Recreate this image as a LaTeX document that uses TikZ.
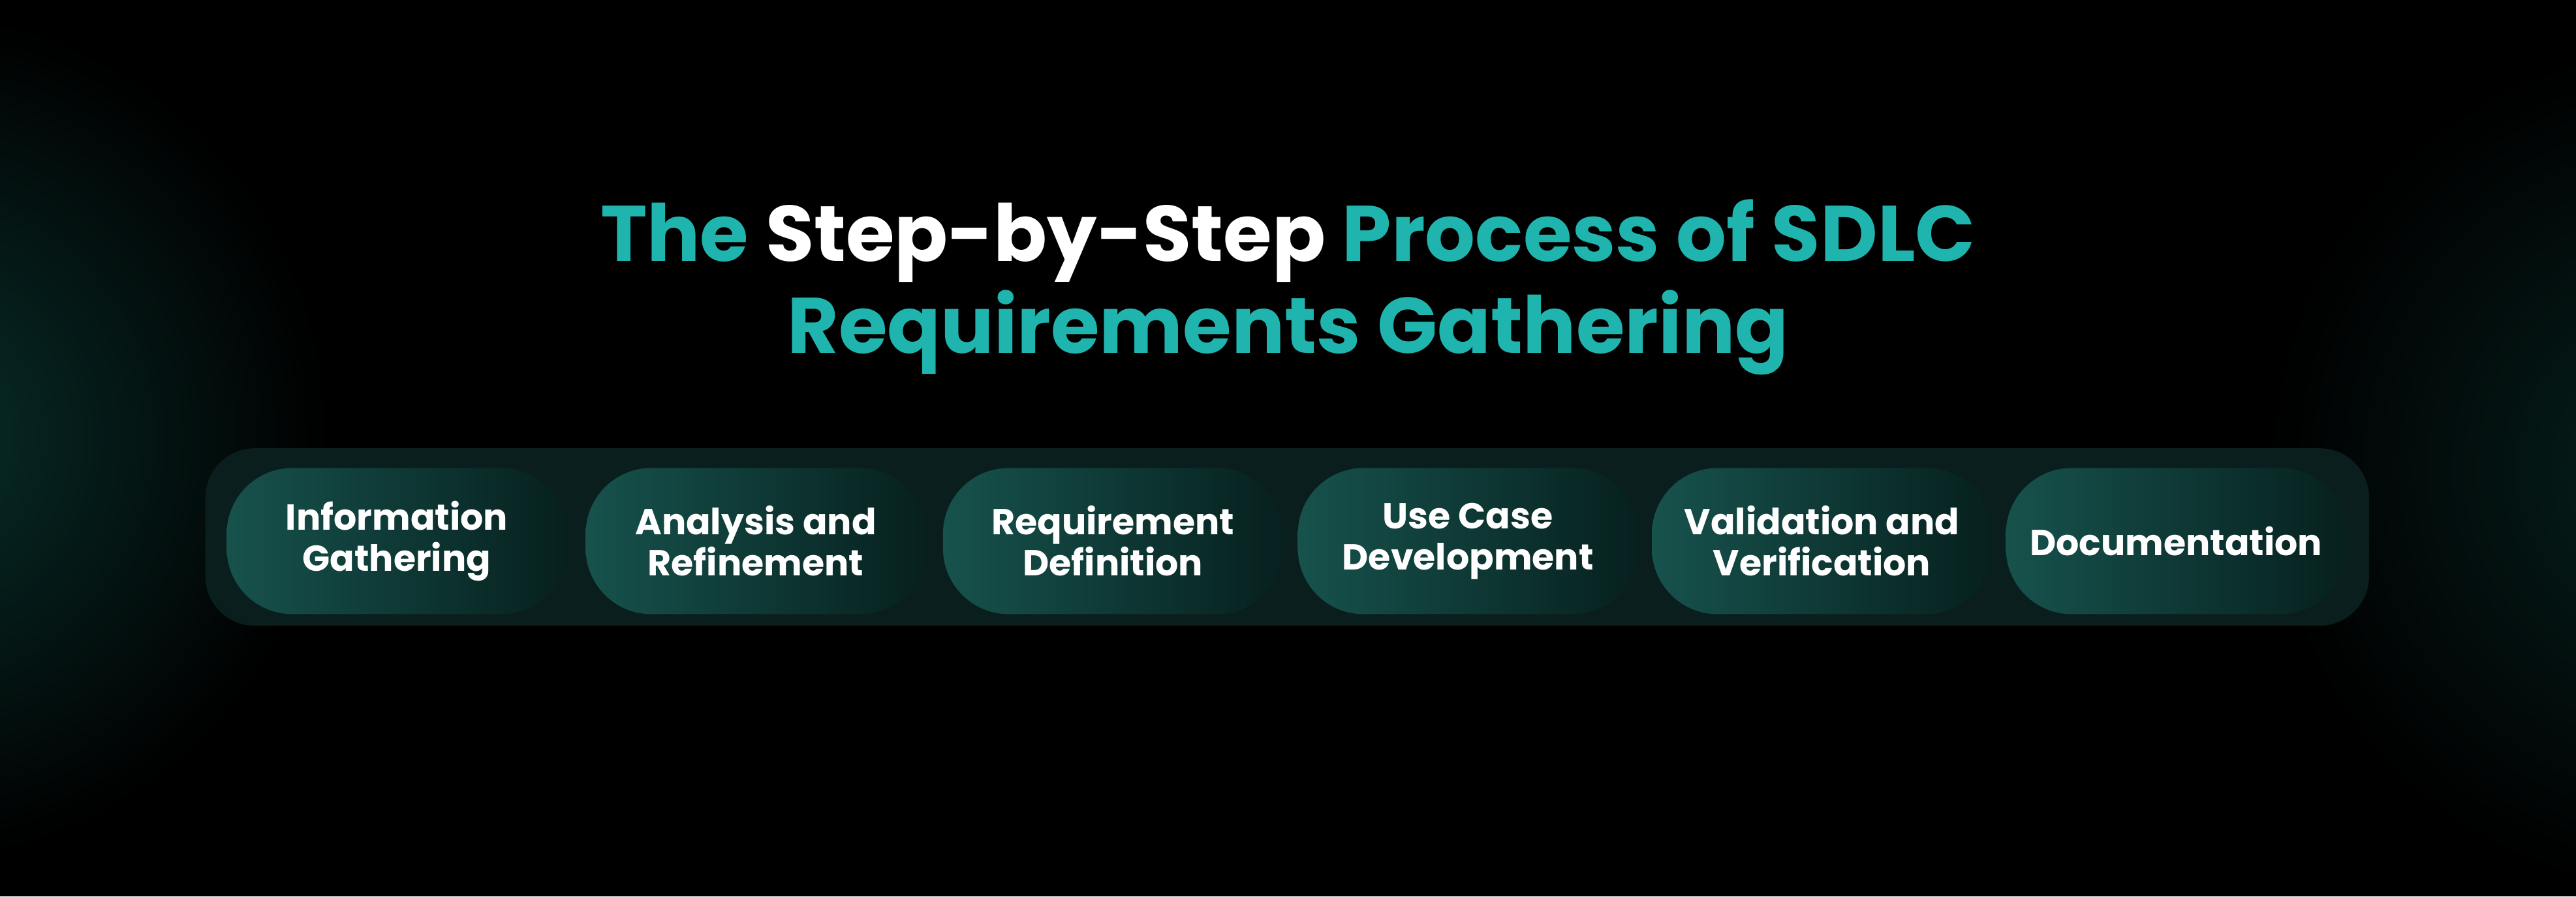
\documentclass[tikz,border=0pt]{standalone}
\usepackage{fontspec}
\setmainfont{Poppins}
\usetikzlibrary{shadings}
\definecolor{tealt}{HTML}{1FB5AE}
\definecolor{glow}{HTML}{08302C}
\definecolor{pillL}{HTML}{17524D}
\definecolor{pillR}{HTML}{06201E}
\definecolor{band}{HTML}{0A1F1D}
\tikzset{
  pill/.style={rounded corners=40pt, left color=pillL, right color=pillR, draw=none,
    minimum width=207pt, minimum height=89pt, font=\fontsize{22}{25}\selectfont\bfseries,
    text=white, align=center, inner sep=0pt},
}
\begin{document}
\begin{tikzpicture}[x=1pt,y=1pt]
\fill[black] (0,0) rectangle (1568,546);
\begin{scope}
\clip (0,0) rectangle (1568,546);
\shade[inner color=glow, outer color=black] (-60,280) circle (260);
\shade[inner color=glow!70!black, outer color=black] (1640,260) circle (260);
\end{scope}
\useasboundingbox (0,0) rectangle (1568,546);
\node[font=\fontsize{48}{56}\selectfont\bfseries, align=center] (title) at (784,371)
  {\textcolor{tealt}{The} \textcolor{white}{Step-by-Step} \textcolor{tealt}{Process of SDLC}\\\textcolor{tealt}{Requirements Gathering}};
\fill[band, rounded corners=30pt] (125,165) rectangle (1442,273);
\node[pill] (p1) at (241.5,216.5) {Information\\Gathering};
\node[pill] (p2) at (460,216.5) {Analysis and\\Refinement};
\node[pill] (p3) at (677.5,216.5) {Requirement\\Definition};
\node[pill] (p4) at (893.5,216.5) {Use Case\\Development};
\node[pill] (p5) at (1109,216.5) {Validation and\\Verification};
\node[pill] (p6) at (1324.5,216.5) {Documentation};
\end{tikzpicture}
\end{document}
